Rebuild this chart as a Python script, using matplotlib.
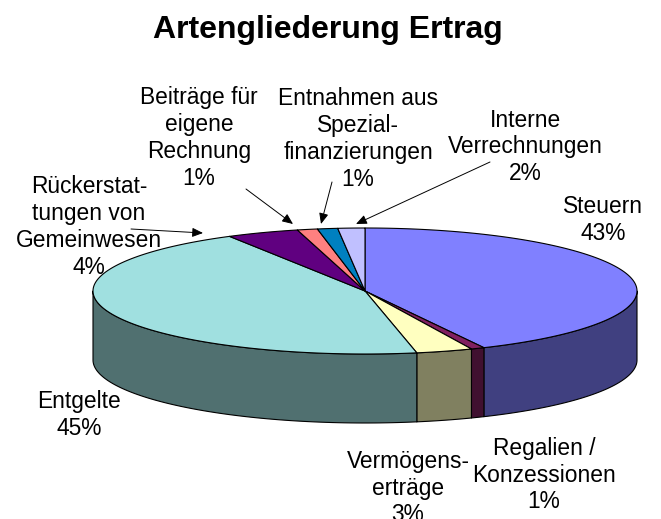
import numpy as np
from matplotlib import pyplot as plt
from matplotlib.patches import Polygon

plt.rcParams['font.family'] = ['Liberation Sans', 'DejaVu Sans']

# shares (labels are rounded in the original)
names = ['Steuern', 'Regalien', 'Vermoegen', 'Entgelte', 'Rueck', 'Beitraege', 'Entnahmen', 'Interne']
shares = [42.8, 0.8, 3.35, 44.75, 4.3, 1.2, 1.2, 1.6]
top_colors = ['#8080FF', '#802060', '#FFFFC0', '#A0E0E0', '#600080', '#FF8080', '#0080C0', '#C0C0FF']
side_colors = ['#404080', '#401030', '#808060', '#507070', '#300040', '#804040', '#004060', '#606080']

labels = ['Steuern\n43%', 'Regalien /\nKonzessionen\n1%', 'Vermögens-\nerträge\n3%', 'Entgelte\n45%',
          'Rückerstat-\ntungen von\nGemeinwesen\n4%', 'Beiträge für\neigene\nRechnung\n1%',
          'Entnahmen aus\nSpezial-\nfinanzierungen\n1%', 'Interne\nVerrechnungen\n2%']
label_x = [603, 544, 408, 79, 89, 199, 358, 525]
label_y = [220, 475, 488, 415, 227, 138, 139, 147]

CX, CY = 365, 291
RX, RY = 272, 63
DEPTH = 69


def ellipse(a):
    # a is clockwise from 12 o'clock, in radians
    return CX + RX * np.sin(a), CY - RY * np.cos(a)


fig = plt.figure(figsize=(6.61, 5.19), dpi=100)
ax = fig.add_axes([0, 0, 1, 1])
ax.set_xlim(0, 661)
ax.set_ylim(519, 0)
ax.axis('off')

edges = np.cumsum([0] + shares) / sum(shares) * 2 * np.pi

# side wall, only the part of the rim facing the viewer
for i in range(len(shares)):
    a0 = max(edges[i], np.pi / 2)
    a1 = min(edges[i + 1], 3 * np.pi / 2)
    if a1 <= a0:
        continue
    t = np.linspace(a0, a1, 80)
    x, y = ellipse(t)
    xs = np.r_[x, x[::-1]]
    ys = np.r_[y, y[::-1] + DEPTH]
    ax.add_patch(Polygon(np.c_[xs, ys], closed=True, fc=side_colors[i], ec='black', lw=0.8, joinstyle='round'))

# top face
for i in range(len(shares)):
    t = np.linspace(edges[i], edges[i + 1], 200)
    x, y = ellipse(t)
    ax.add_patch(Polygon(np.c_[np.r_[CX, x], np.r_[CY, y]], closed=True, fc=top_colors[i], ec='black', lw=0.8,
                         joinstyle='round'))

# leader arrows
arrow_from = [(131, 229), (246, 189), (332, 182), (490, 162)]
arrow_to = [(203, 233), (293, 224), (321, 224), (356, 224)]
for p0, p1 in zip(arrow_from, arrow_to):
    ax.annotate('', xy=p1, xytext=p0,
                arrowprops=dict(arrowstyle='-|>,head_length=0.65,head_width=0.28', color='black', lw=0.7,
                                shrinkA=0, shrinkB=0, mutation_scale=10))

for i in range(len(labels)):
    ax.text(label_x[i], label_y[i], labels[i], ha='center', va='center', fontsize=16.4, color='black',
            linespacing=1.22, clip_on=True)

ax.text(328, 38, 'Artengliederung Ertrag', ha='center', va='baseline', fontsize=23, fontweight='bold')

fig.savefig('out.png', dpi=100)
